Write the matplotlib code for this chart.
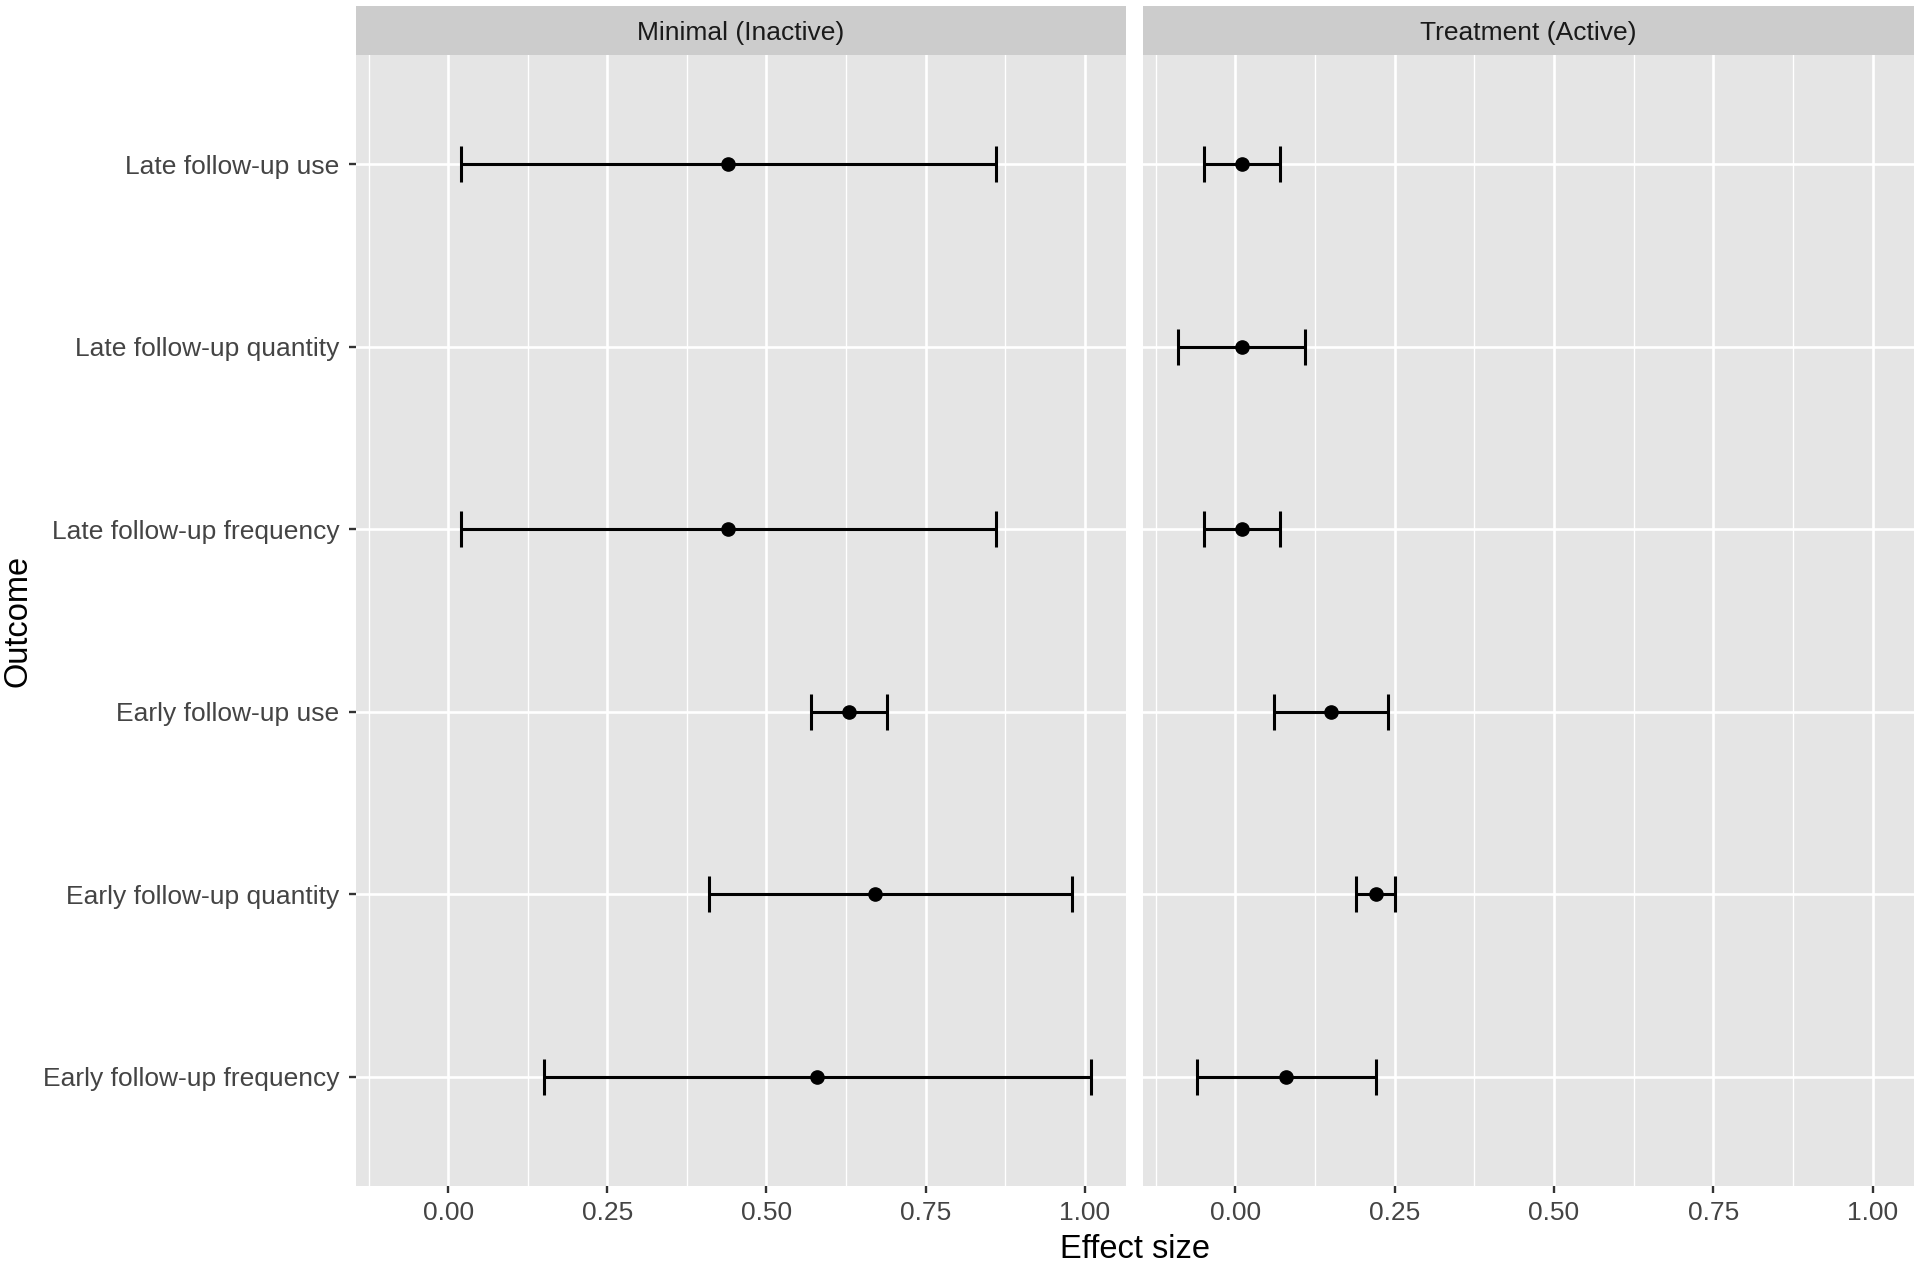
import matplotlib
matplotlib.use("Agg")
import matplotlib.pyplot as plt
import numpy as np

plt.rcParams['font.family'] = ['Liberation Sans', 'DejaVu Sans']

outcomes = ["Early follow-up frequency", "Early follow-up quantity", "Early follow-up use",
            "Late follow-up frequency", "Late follow-up quantity", "Late follow-up use"]
panels = ["Minimal (Inactive)", "Treatment (Active)"]

minimal_est = [0.58, 0.67, 0.63, 0.44, np.nan, 0.44]
minimal_lo = [0.15, 0.41, 0.57, 0.02, np.nan, 0.02]
minimal_hi = [1.01, 0.98, 0.69, 0.86, np.nan, 0.86]

treat_est = [0.08, 0.22, 0.15, 0.01, 0.01, 0.01]
treat_lo = [-0.06, 0.19, 0.06, -0.05, -0.09, -0.05]
treat_hi = [0.22, 0.25, 0.24, 0.07, 0.11, 0.07]

xticks = [0.00, 0.25, 0.50, 0.75, 1.00]
xticklabels = ["0.00", "0.25", "0.50", "0.75", "1.00"]
xminor = [-0.125, 0.125, 0.375, 0.625, 0.875]

W, H = 1920, 1266
fig = plt.figure(figsize=(W / 100, H / 100), dpi=100)

panel_bg = "#E5E5E5"
strip_bg = "#CCCCCC"

top, bottom = 55, 1186
strip_top = 6
lefts = [356, 1143]
rights = [1126, 1914]

all_lo = [v for v in minimal_lo + treat_lo if not np.isnan(v)]
all_hi = [v for v in minimal_hi + treat_hi if not np.isnan(v)]
xmin, xmax = min(all_lo), max(all_hi)
rng = xmax - xmin
xlim = (xmin - 0.05 * rng, xmax + 0.05 * rng)

data = [(minimal_est, minimal_lo, minimal_hi), (treat_est, treat_lo, treat_hi)]
ypos = np.arange(1, len(outcomes) + 1)

for i, (name, (est, lo, hi)) in enumerate(zip(panels, data)):
    l, r = lefts[i], rights[i]
    ax = fig.add_axes([l / W, 1 - bottom / H, (r - l) / W, (bottom - top) / H])
    ax.set_facecolor(panel_bg)
    for s in ax.spines.values():
        s.set_visible(False)
    ax.set_xlim(*xlim)
    ax.set_ylim(0.4, len(outcomes) + 0.6)
    ax.set_xticks(xticks)
    ax.set_xticks(xminor, minor=True)
    ax.set_xticklabels(xticklabels)
    ax.set_yticks(ypos)
    ax.grid(True, which='major', color='white', linewidth=1.9)
    ax.grid(True, which='minor', axis='x', color='white', linewidth=0.95)
    ax.set_axisbelow(True)
    ax.tick_params(axis='x', which='major', length=5, width=1.7, color='#333333',
                   labelsize=19, labelcolor='#444444', pad=6)
    ax.tick_params(axis='x', which='minor', length=0)
    if i == 0:
        ax.set_yticklabels(outcomes)
        ax.tick_params(axis='y', length=5, width=1.7, color='#333333',
                       labelsize=19, labelcolor='#444444', pad=7)
    else:
        ax.set_yticklabels([])
        ax.tick_params(axis='y', length=0)

    est_a = np.array(est, dtype=float)
    lo_a = np.array(lo, dtype=float)
    hi_a = np.array(hi, dtype=float)
    mask = ~np.isnan(est_a)
    ax.errorbar(est_a[mask], ypos[mask],
                xerr=[est_a[mask] - lo_a[mask], hi_a[mask] - est_a[mask]],
                fmt='none', ecolor='black', elinewidth=2.2, capsize=13, capthick=2.2, zorder=3)
    ax.plot(est_a[mask], ypos[mask], 'o', color='black', markersize=9.5, zorder=4)

    sax = fig.add_axes([l / W, 1 - top / H, (r - l) / W, (top - strip_top) / H])
    sax.set_facecolor(strip_bg)
    sax.set_xticks([])
    sax.set_yticks([])
    for s in sax.spines.values():
        s.set_visible(False)
    sax.text(0.5, 0.45, name, ha='center', va='center', fontsize=19, color='#1A1A1A',
             transform=sax.transAxes)

fig.text((lefts[0] + rights[1]) / 2 / W, 1 - 1249 / H, "Effect size", ha='center', va='center',
         fontsize=23.5, color='black')
fig.text(18 / W, 1 - (top + bottom) / 2 / H, "Outcome", ha='center', va='center',
         rotation=90, fontsize=23.5, color='black')

fig.savefig("out.png", dpi=100, facecolor='white')
